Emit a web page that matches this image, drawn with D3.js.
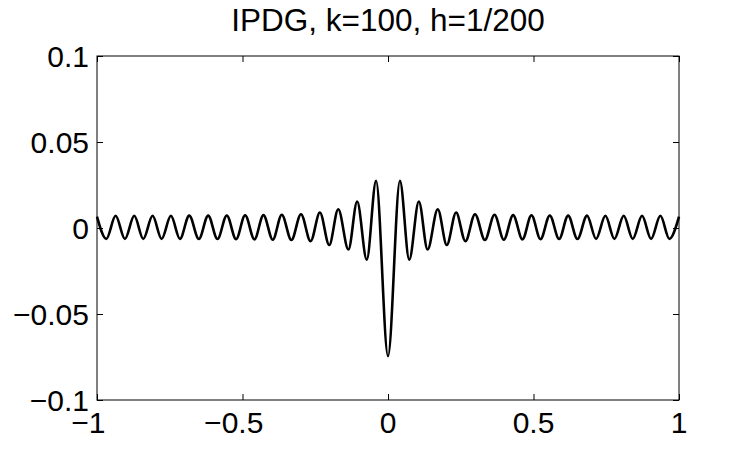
<!DOCTYPE html>
<html>
<head>
<meta charset="utf-8">
<script src="https://cdn.jsdelivr.net/npm/d3@7"></script>
<style>
  body { margin: 0; background: #fff; }
  svg { display: block; font-family: "Liberation Sans", Arial, sans-serif; }
</style>
</head>
<body>
<svg id="chart" width="750" height="451"></svg>
<script>
// Title and axis ticks
const titleText = "IPDG, k=100, h=1/200";
const xTicks = [-1, -0.5, 0, 0.5, 1];
const yTicks = [-0.1, -0.05, 0, 0.05, 0.1];

// Local extrema of the curve (left to right)
const curveX = [
  -1.000, -0.968, -0.936, -0.904, -0.872, -0.841, -0.809, -0.778, -0.746, -0.715,
  -0.683, -0.650, -0.618, -0.586, -0.554, -0.522, -0.491, -0.459, -0.428, -0.396,
  -0.365, -0.332, -0.299, -0.266, -0.234, -0.202, -0.171, -0.136, -0.106, -0.073,
  -0.041, 0.000,
  0.041, 0.073, 0.106, 0.136, 0.171, 0.202, 0.234, 0.266, 0.299, 0.333,
  0.366, 0.398, 0.430, 0.462, 0.493, 0.524, 0.556, 0.588, 0.619, 0.651,
  0.684, 0.715, 0.747, 0.778, 0.810, 0.841, 0.873, 0.904, 0.936, 0.967, 1.000
];
const curveY = [
  0.0066, -0.0063, 0.0071, -0.0063, 0.0071, -0.0063, 0.0071, -0.0063, 0.0071, -0.0063,
  0.0072, -0.0064, 0.0072, -0.0064, 0.0073, -0.0065, 0.0074, -0.0066, 0.0075, -0.0068,
  0.0077, -0.0070, 0.0080, -0.0077, 0.0090, -0.0099, 0.0109, -0.0125, 0.0154, -0.0184,
  0.0274, -0.0745,
  0.0274, -0.0184, 0.0154, -0.0125, 0.0109, -0.0099, 0.0090, -0.0077, 0.0080, -0.0070,
  0.0077, -0.0068, 0.0075, -0.0066, 0.0074, -0.0065, 0.0073, -0.0064, 0.0072, -0.0064,
  0.0072, -0.0063, 0.0071, -0.0063, 0.0071, -0.0063, 0.0071, -0.0063, 0.0071, -0.0063, 0.0066
];

const margin = { top: 56, right: 71, bottom: 51, left: 97 };
const svgWidth = 750, svgHeight = 451;
const width = svgWidth - margin.left - margin.right;
const height = svgHeight - margin.top - margin.bottom;
const fontSize = 30;
const minusHalf = fontSize * 0.584 / 2; // labels are centred on the number, not the sign

const svg = d3.select("#chart");
const g = svg.append("g").attr("transform", `translate(${margin.left},${margin.top})`);

const x = d3.scaleLinear().domain([-1, 1]).range([0, width]);
const y = d3.scaleLinear().domain([-0.1, 0.1]).range([height, 0]);

const fmt = d => (d < 0 ? "\u2212" : "") + String(Math.abs(d));

// inward ticks on all four sides
const tickLen = 6;
g.append("g").attr("transform", `translate(0,${height})`)
  .call(d3.axisBottom(x).tickValues(xTicks).tickSize(-tickLen).tickFormat(""));
g.append("g")
  .call(d3.axisTop(x).tickValues(xTicks).tickSize(-tickLen).tickFormat(""));
g.append("g")
  .call(d3.axisLeft(y).tickValues(yTicks).tickSize(-tickLen).tickFormat(""));
g.append("g").attr("transform", `translate(${width},0)`)
  .call(d3.axisRight(y).tickValues(yTicks).tickSize(-tickLen).tickFormat(""));
g.selectAll(".domain").remove();
g.selectAll(".tick line").attr("stroke", "#000").attr("stroke-width", 1);

// frame
g.append("rect")
  .attr("x", 0).attr("y", 0)
  .attr("width", width).attr("height", height)
  .attr("fill", "none").attr("stroke", "#000").attr("stroke-width", 1);

// tick labels
g.selectAll(".xlab").data(xTicks).enter().append("text")
  .attr("class", "xlab")
  .attr("x", d => x(d) - (d < 0 ? minusHalf : 0))
  .attr("y", height + 33)
  .attr("text-anchor", "middle")
  .attr("font-size", fontSize)
  .attr("fill", "#000")
  .text(fmt);

g.selectAll(".ylab").data(yTicks).enter().append("text")
  .attr("class", "ylab")
  .attr("x", -8)
  .attr("y", d => y(d) + 10.5)
  .attr("text-anchor", "end")
  .attr("font-size", fontSize)
  .attr("fill", "#000")
  .text(fmt);

// curve
const pts = curveX.map((d, i) => [d, curveY[i]]);
const line = d3.line()
  .x(d => x(d[0]))
  .y(d => y(d[1]))
  .curve(d3.curveMonotoneX);
g.append("path")
  .datum(pts)
  .attr("d", line)
  .attr("fill", "none")
  .attr("stroke", "#000")
  .attr("stroke-width", 2.6)
  .attr("stroke-linejoin", "round");

// title
svg.append("text")
  .attr("x", margin.left + width / 2)
  .attr("y", 31)
  .attr("text-anchor", "middle")
  .attr("font-size", 31.5)
  .attr("fill", "#000")
  .text(titleText);
</script>
</body>
</html>
